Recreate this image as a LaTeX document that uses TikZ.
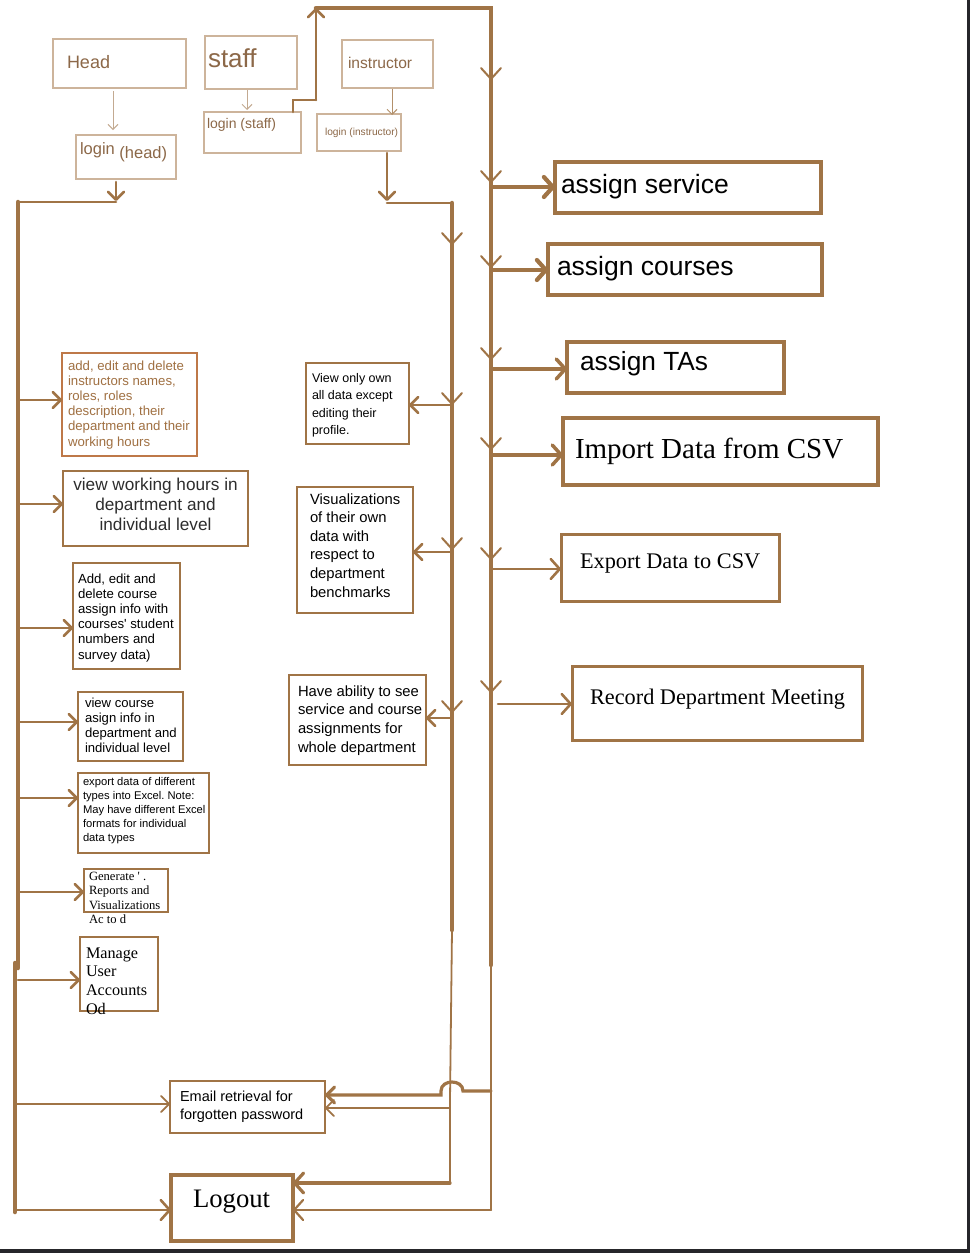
\documentclass[tikz,border=0pt]{standalone}
\usepackage{fontspec}
\setmainfont{Liberation Sans}
\newfontfamily\tms{Liberation Serif}
\usetikzlibrary{arrows.meta,calc}
\definecolor{brn}{RGB}{160,116,70}
\definecolor{lbrn}{RGB}{205,180,155}
\definecolor{tbrn}{RGB}{140,104,72}
\definecolor{obrn}{RGB}{190,120,72}
\definecolor{tobrn}{RGB}{160,112,66}
\definecolor{dgray}{RGB}{45,45,45}
\definecolor{frm}{RGB}{38,38,42}
\definecolor{harr}{RGB}{195,170,145}
\frenchspacing
\newcommand{\bxt}[5]{\parbox[c][#2][t]{#1}{\vspace*{\dimexpr#4-30pt\relax}\raggedright\leftskip=#3\relax\rightskip=-60pt plus 1fil\relax\rule{0pt}{30pt}#5}}
\begin{document}
\begin{tikzpicture}[x=1pt,y=-1pt,
  box/.style={draw=brn,line width=1.8pt,inner sep=0pt,outer sep=0pt,anchor=north west,text=black},
  lbox/.style={box,draw=lbrn,line width=1.2pt,text=tbrn},
  rbox/.style={box,line width=3.5pt},
  bus/.style={draw=brn,line width=4.5pt,line cap=round},
  med/.style={draw=brn,line width=2.6pt,line cap=round},
  thn/.style={draw=brn,line width=1.8pt,line cap=round},
  hair/.style={draw=harr,line width=1pt},
  arr/.style={-{Straight Barb[length=8pt,width=16pt,round]}},
  bigarr/.style={-{Straight Barb[length=9pt,width=20pt,round]}},
  smallarr/.style={-{Straight Barb[length=5pt,width=10pt]}},
  dmark/.style={draw=brn,line width=2pt,-{Straight Barb[length=11pt,width=20pt,round]}}
]
\useasboundingbox (0,0) rectangle (970,1253);
\fill[white] (0,0) rectangle (970,1253);

% top role boxes
\node[lbox,font=\fontsize{18}{22}\selectfont] (head) at (53,39) {\bxt{133pt}{49pt}{14pt}{29pt}{Head}};
\node[lbox,font=\fontsize{26}{30}\selectfont] (staff) at (205,36) {\bxt{92pt}{53pt}{3pt}{31pt}{staff}};
\node[lbox,font=\fontsize{15.6}{18}\selectfont] (instr) at (342,40) {\bxt{91pt}{48pt}{6pt}{28pt}{instructor}};
\node[lbox,font=\fontsize{16.5}{19}\selectfont] (lhead) at (76,135) {\bxt{100pt}{44pt}{4pt}{19pt}{login \raisebox{-4pt}{(head)}}};
\node[lbox,font=\fontsize{14}{17}\selectfont] (lstaff) at (204,112) {\bxt{97pt}{41pt}{3pt}{16pt}{login (staff)}};
\node[lbox,font=\fontsize{10.2}{12}\selectfont] (linstr) at (317,114) {\bxt{84pt}{37pt}{8pt}{21pt}{login (instructor)}};

% left column
\node[box,draw=obrn,line width=2pt,text=tobrn,font=\fontsize{13.2}{15.2}\selectfont] (b1) at (62,353) {\bxt{135pt}{103pt}{6pt}{17pt}{add, edit and delete\\instructors names,\\roles, roles\\description, their\\department and their\\working hours}};
\node[box,line width=1.5pt,text=dgray,font=\fontsize{17.2}{20}\selectfont] (b2) at (63,471) {\bxt{185pt}{75pt}{0pt}{19pt}{\centering view working hours in\\department and\\individual level}};
\node[box,line width=1.5pt,font=\fontsize{13.2}{15.2}\selectfont] (b3) at (73,563) {\bxt{107pt}{106pt}{5pt}{20pt}{Add, edit and\\delete course\\assign info with\\courses\textquotesingle\ student\\numbers and\\survey data)}};
\node[box,line width=1.5pt,font=\fontsize{13.1}{15}\selectfont] (b4) at (78,692) {\bxt{105pt}{69pt}{7pt}{15pt}{view course\\asign info in\\department and\\individual level}};
\node[box,line width=2pt,font=\fontsize{11.2}{14}\selectfont] (b5) at (78,773) {\bxt{131pt}{80pt}{5pt}{12pt}{export data of different\\types into Excel. Note:\\May have different Excel\\formats for individual\\data types}};
\node[box,line width=2pt,font=\tms\fontsize{12.6}{14.5}\selectfont] (b6) at (84,869) {\bxt{84pt}{43pt}{5pt}{11pt}{Generate \textquotesingle\ .\\Reports and\\Visualizations\\Ac to d}};
\node[box,line width=2.5pt,font=\tms\fontsize{16.2}{18.7}\selectfont] (b7) at (80,937) {\bxt{78pt}{74pt}{6pt}{21pt}{Manage\\User\\Accounts\\Od}};

% middle column
\node[box,line width=2pt,font=\fontsize{12.5}{17.5}\selectfont] (m1) at (306,363) {\bxt{103pt}{81pt}{6pt}{19pt}{View only own\\all data except\\editing their\\profile.}};
\node[box,line width=2pt,font=\fontsize{14.8}{18.6}\selectfont] (m2) at (297,487) {\bxt{116pt}{126pt}{13pt}{17pt}{Visualizations\\of their own\\data with\\respect to\\department\\benchmarks}};
\node[box,line width=2pt,font=\fontsize{14.8}{18.7}\selectfont] (m3) at (289,675) {\bxt{137pt}{90pt}{9pt}{21pt}{Have ability to see\\service and course\\assignments for\\whole department}};

% right column
\node[rbox,font=\fontsize{26.5}{30}\selectfont] (r1) at (555,162) {\bxt{266pt}{51pt}{6pt}{31pt}{assign service}};
\node[rbox,font=\fontsize{26.5}{30}\selectfont] (r2) at (548,244) {\bxt{274pt}{51pt}{9pt}{31pt}{assign courses}};
\node[rbox,font=\fontsize{26.3}{30}\selectfont] (r3) at (567,342) {\bxt{217pt}{51pt}{13pt}{28pt}{assign TAs}};
\node[rbox,font=\tms\fontsize{29}{33}\selectfont] (r4) at (563,418) {\bxt{315pt}{67pt}{12pt}{40pt}{Import Data from CSV}};
\node[rbox,line width=3pt,font=\tms\fontsize{22.3}{26}\selectfont] (r5) at (561,534) {\bxt{218pt}{67pt}{19pt}{34pt}{Export Data to CSV}};
\node[rbox,line width=3pt,font=\tms\fontsize{22.3}{26}\selectfont] (r6) at (572,666) {\bxt{290pt}{74pt}{18pt}{38pt}{Record Department Meeting}};

% bottom
\node[box,line width=2pt,font=\fontsize{14.5}{18.5}\selectfont] (email) at (170,1081) {\bxt{155pt}{52pt}{10pt}{20pt}{Email retrieval for\\forgotten password}};
\node[box,line width=4pt,font=\tms\fontsize{26.7}{30}\selectfont] (logout) at (171,1175) {\bxt{122pt}{66pt}{22pt}{32pt}{Logout}};

% role -> login arrows
\draw[hair,smallarr] ($(head.south west)+(60,3)$) -- ($(head.south west |- lhead.north)+(60,-5)$);
\draw[hair,smallarr] ($(staff.south west)+(42,1)$) -- ($(staff.south west |- lstaff.north)+(42,-2)$);
\draw[hair,draw=brn!80,smallarr] ($(instr.south west)+(50,1)$) -- ($(instr.south west |- linstr.north)+(50,1)$);

% left bus
\coordinate (LT) at (18,202);
\coordinate (LM) at (18,968);
\coordinate (LM2) at (15,963);
\coordinate (LB) at (15,1212);
\draw[med,arr] ($(lhead.south west)+(40,3)$) -- ($(lhead.south west |- LT)+(40,-1)$);
\draw[med] ($(lhead.south west |- LT)+(40,0)$) -- (LT);
\draw[bus] (LT) -- (LM);
\draw[bus] (LM2) -- (LB);
\foreach \n/\y in {b1/400,b2/504,b3/628,b4/722,b5/798,b6/892,b7/980} {
  \coordinate (L\n) at (18,\y);
  \draw[med,arr] (L\n) -- (\n.west |- L\n);
}
\coordinate (LE) at (15,1104);
\draw[thn,arr] (LE) -- (email.west |- LE);
\coordinate (LL) at (15,1210);
\draw[med,bigarr] (LL) -- (logout.west |- LL);

% middle bus
\coordinate (MT) at (452,203);
\coordinate (MM) at (452,930);
\coordinate (MX) at (450,1100);
\coordinate (MB) at (450,1183);
\draw[med,arr] ($(linstr.south west)+(70,2)$) -- ($(linstr.south west |- MT)+(70,-2)$);
\draw[med] ($(linstr.south west |- MT)+(70,0)$) -- (MT);
\draw[bus] (MT) -- (MM);
\draw[thn] (MM) -- (MX);
\draw[med] (MX) -- (MB);
\draw[med,line width=3.2pt,bigarr] (MB) -- (logout.east |- MB);
\coordinate (ME) at (450,1108);
\draw[thn,arr] (ME) -- (email.east |- ME);
\foreach \n/\y in {m1/405,m2/552,m3/718} {
  \coordinate (M\n) at (452,\y);
  \draw[med,arr] (M\n) -- (\n.east |- M\n);
}

% right bus
\coordinate (SC) at (316,100);
\coordinate (ST) at (316,8);
\coordinate (RT) at (491,8);
\coordinate (RM) at (491,965);
\coordinate (RB) at (491,1210);
\draw[med] ($(lstaff.north west)+(89,0)$) |- (SC);
\draw[med,arr] (SC) -- (ST);
\draw[bus] (ST) -- (RT) -- (RM);
\draw[thn] (RM) -- (RB);
\draw[thn,line width=2.2pt,bigarr] (RB) -- (logout.east |- RB);
\foreach \n/\x/\y/\w in {r1/493/187/4.2,r2/493/270/4.2,r3/493/369/3.5,r4/493/455/3.5,r5/493/569/2.6,r6/498/704/2.6} {
  \coordinate (R\n) at (\x,\y);
  \draw[draw=brn,line width=\w pt,line cap=round,bigarr] (R\n) -- (\n.west |- R\n);
}
\coordinate (RH) at (491,1091);
\coordinate (EH) at (441,1095);
\draw[med,line width=3.2pt,arr] (RH) -- (463,1091) .. controls (463,1079) and (441,1079) .. (441,1091) -- (EH) -- (email.east |- EH);

% direction marks on the buses
\foreach \y in {80,183,268,360,450,560,693} \draw[dmark] (491,\y-20) -- (491,\y);
\foreach \y in {245,405,550,713} \draw[dmark] (452,\y-20) -- (452,\y);

% screenshot frame edges
\fill[frm] (967,0) rectangle (970,1253);
\fill[frm] (0,1249) rectangle (970,1253);
\end{tikzpicture}
\end{document}
